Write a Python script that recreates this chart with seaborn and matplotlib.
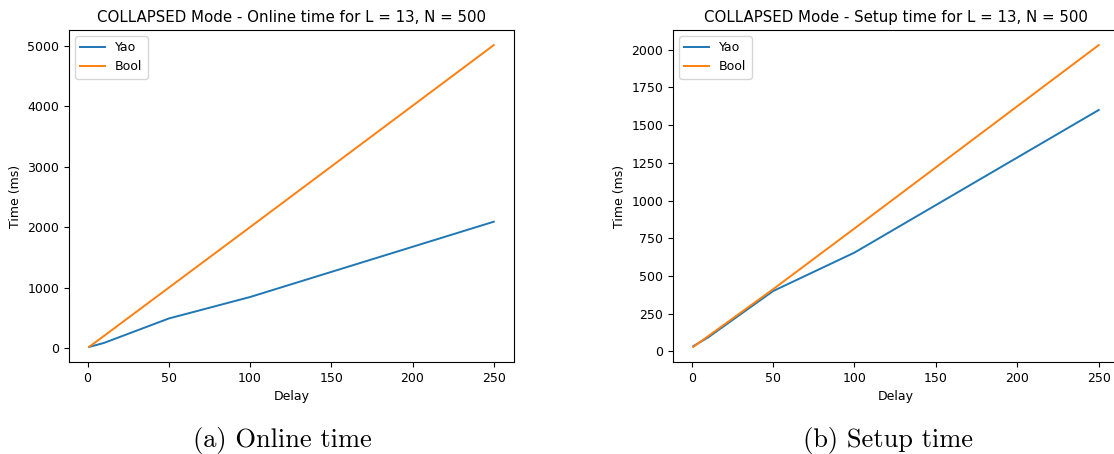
import pandas as pd
import matplotlib
matplotlib.use("Agg")
import matplotlib.pyplot as plt
import seaborn as sns

# Data
delays = [1, 10, 50, 100, 250]
online_yao = [20, 85, 490, 845, 2090]
online_bool = [22, 200, 1000, 2000, 5010]
setup_yao = [35, 92, 400, 655, 1600]
setup_bool = [30, 100, 412, 815, 2030]
series_names = ["Yao", "Bool"]
titles = ["COLLAPSED Mode - Online time for L = 13, N = 500",
          "COLLAPSED Mode - Setup time for L = 13, N = 500"]
captions = ["(a) Online time", "(b) Setup time"]


def long_frame(yao, boolv):
    rows = []
    for name, vals in zip(series_names, [yao, boolv]):
        for d, v in zip(delays, vals):
            rows.append({"Delay": d, "Time (ms)": v, "proto": name})
    return pd.DataFrame(rows)


frames = [long_frame(online_yao, online_bool), long_frame(setup_yao, setup_bool)]

fig = plt.figure(figsize=(11.14, 4.54), dpi=100)
axes = [fig.add_axes([69 / 1114, 92 / 454, 445 / 1114, 332 / 454]),
        fig.add_axes([673 / 1114, 92 / 454, 446 / 1114, 332 / 454])]
cap_x = [282 / 1114, 888 / 1114]

for ax, df, title, cap, cx in zip(axes, frames, titles, captions, cap_x):
    sns.lineplot(data=df, x="Delay", y="Time (ms)", hue="proto",
                 palette=["#1f77b4", "#ff7f0e"], linewidth=1.4, ax=ax)
    ax.set_title(title, fontsize=10.8)
    ax.set_xlabel("Delay", fontsize=9)
    ax.set_ylabel("Time (ms)", fontsize=9)
    ax.tick_params(labelsize=9)
    ax.set_xticks([0, 50, 100, 150, 200, 250])
    leg = ax.legend(loc="upper left", fontsize=9)
    leg.set_title(None)
    for s in ax.spines.values():
        s.set_linewidth(0.8)
    fig.text(cx, 14 / 454, cap, ha="center", va="center",
             fontsize=19, family="cmr10")

fig.savefig("out.png", dpi=100)
